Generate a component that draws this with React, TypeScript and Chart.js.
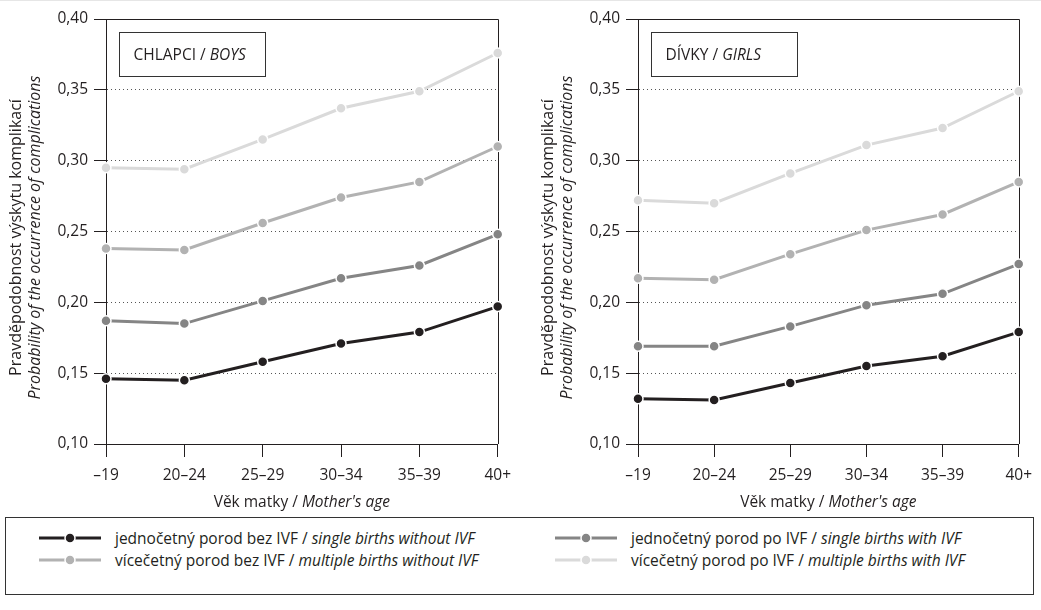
import React, { useEffect, useRef } from "react";
import { Chart, registerables } from "chart.js";

Chart.register(...registerables);

// ---------- data ----------
const ageGroups = ["–19", "20–24", "25–29", "30–34", "35–39", "40+"];

const boysSingleNoIVF = [0.146, 0.145, 0.158, 0.171, 0.179, 0.197];
const boysSingleIVF = [0.187, 0.185, 0.201, 0.217, 0.226, 0.248];
const boysMultiNoIVF = [0.238, 0.237, 0.256, 0.274, 0.285, 0.310];
const boysMultiIVF = [0.295, 0.294, 0.315, 0.337, 0.349, 0.376];

const girlsSingleNoIVF = [0.132, 0.131, 0.143, 0.155, 0.162, 0.179];
const girlsSingleIVF = [0.169, 0.169, 0.183, 0.198, 0.206, 0.227];
const girlsMultiNoIVF = [0.217, 0.216, 0.234, 0.251, 0.262, 0.285];
const girlsMultiIVF = [0.272, 0.270, 0.291, 0.311, 0.323, 0.349];

const yMin = 0.1;
const yMax = 0.4;
const yStep = 0.05;

const seriesNamesCz = [
  "jednočetný porod bez IVF",
  "jednočetný porod po IVF",
  "vícečetný porod bez IVF",
  "vícečetný porod po IVF",
];
const seriesNamesEn = [
  "single births without IVF",
  "single births with IVF",
  "multiple births without IVF",
  "multiple births with IVF",
];
const seriesColors = ["#231f20", "#858585", "#b2b2b2", "#dadada"];

const yTitleCz = "Pravděpodobnost výskytu komplikací";
const yTitleEn = "Probability of the occurrence of complications";
const xTitleCz = "Věk matky / ";
const xTitleEn = "Mother's age";

// ---------- helpers ----------
const FONT = "'Open Sans', sans-serif";
const FS = 15.5;
const TEXT = "#231f20";

type Part = [string, boolean];

function drawParts(
  ctx: CanvasRenderingContext2D,
  parts: Part[],
  x: number,
  y: number,
  center: boolean,
  size: number = FS
) {
  const widths = parts.map(([t, it]) => {
    ctx.font = `${it ? "italic " : ""}${size}px ${FONT}`;
    return ctx.measureText(t).width;
  });
  const total = widths.reduce((a, b) => a + b, 0);
  let cx = center ? x - total / 2 : x;
  ctx.textAlign = "left";
  ctx.textBaseline = "middle";
  parts.forEach(([t, it], i) => {
    ctx.font = `${it ? "italic " : ""}${size}px ${FONT}`;
    ctx.fillText(t, cx, y);
    cx += widths[i];
  });
}

function makeDecor(boxParts: Part[]) {
  return {
    id: "decor",
    beforeDatasetsDraw(chart: any) {
      const { ctx, chartArea } = chart;
      const { left, right, top, bottom } = chartArea;
      ctx.save();
      // top and right frame
      ctx.strokeStyle = TEXT;
      ctx.lineWidth = 1;
      ctx.setLineDash([]);
      ctx.beginPath();
      ctx.moveTo(left, Math.round(top) + 0.5);
      ctx.lineTo(Math.round(right) + 0.5, Math.round(top) + 0.5);
      ctx.lineTo(Math.round(right) + 0.5, bottom);
      ctx.stroke();
      // title box
      const bx = Math.round(left + 13) + 0.5;
      const by = Math.round(top + 13) + 0.5;
      ctx.fillStyle = "#fff";
      ctx.fillRect(bx, by, 146, 44);
      ctx.strokeStyle = "#333";
      ctx.strokeRect(bx, by, 146, 44);
      ctx.fillStyle = TEXT;
      drawParts(ctx, boxParts, bx + 14, by + 23, false);
      // x title
      drawParts(ctx, [[xTitleCz, false], [xTitleEn, true]], (left + right) / 2, 503, true);
      // y title
      const cy = (top + bottom) / 2 + 6;
      ctx.translate(left - 90, cy);
      ctx.rotate(-Math.PI / 2);
      drawParts(ctx, [[yTitleCz, false]], 0, 0, true, 16);
      ctx.restore();
      ctx.save();
      ctx.fillStyle = TEXT;
      ctx.translate(left - 71, cy);
      ctx.rotate(-Math.PI / 2);
      drawParts(ctx, [[yTitleEn, true]], 0, 0, true, 16);
      ctx.restore();
    },
  };
}

function buildConfig(series: number[][], yAxisWidth: number, padRight: number, boxParts: Part[]) {
  const order = [0, 1, 2, 3];
  return {
    type: "line",
    data: {
      labels: ageGroups,
      datasets: order.map((i) => ({
        label: seriesNamesCz[i],
        data: series[i],
        borderColor: seriesColors[i],
        backgroundColor: seriesColors[i],
        borderWidth: 3,
        pointRadius: 5,
        pointBorderColor: "#ffffff",
        pointBorderWidth: 1.5,
        pointBackgroundColor: seriesColors[i],
        tension: 0,
        clip: false,
      })),
    },
    options: {
      responsive: false,
      animation: false,
      layout: { padding: { top: 19, right: padRight, left: 0, bottom: 0 } },
      plugins: { legend: { display: false }, tooltip: { enabled: false } },
      scales: {
        x: {
          type: "category",
          offset: false,
          grid: {
            drawOnChartArea: false,
            drawTicks: true,
            tickLength: 13,
            tickColor: TEXT,
            color: TEXT,
          },
          border: { color: TEXT, width: 1 },
          ticks: {
            color: TEXT,
            font: { family: FONT, size: FS },
            padding: 9,
            maxRotation: 0,
            autoSkip: false,
          },
          afterFit(scale: any) {
            scale.height = 71;
          },
        },
        y: {
          min: yMin,
          max: yMax,
          grid: {
            color: "#555",
            lineWidth: 1,
            drawTicks: true,
            tickLength: 12,
            tickColor: TEXT,
            tickBorderDash: [],
          },
          border: { color: TEXT, width: 1, dash: [1, 3] },
          ticks: {
            stepSize: yStep,
            color: TEXT,
            font: { family: FONT, size: FS },
            padding: 6,
            callback: (v: any) => Number(v).toFixed(2).replace(".", ","),
          },
          afterFit(scale: any) {
            scale.width = yAxisWidth;
          },
        },
      },
    },
    plugins: [makeDecor(boxParts)],
  } as any;
}

function LineChart(props: {
  series: number[][];
  left: number;
  width: number;
  yAxisWidth: number;
  padRight: number;
  boxParts: Part[];
}) {
  const ref = useRef<HTMLCanvasElement | null>(null);
  useEffect(() => {
    if (!ref.current) return;
    const chart = new Chart(ref.current, buildConfig(props.series, props.yAxisWidth, props.padRight, props.boxParts));
    return () => chart.destroy();
  }, []);
  return (
    <canvas
      ref={ref}
      width={props.width}
      height={515}
      style={{ position: "absolute", left: props.left, top: 0, width: props.width, height: 515 }}
    />
  );
}

function LegendSample({ color }: { color: string }) {
  return (
    <svg width={62} height={12} style={{ display: "block" }}>
      <line x1={0} y1={6} x2={62} y2={6} stroke={color} strokeWidth={3} />
      <circle cx={31} cy={6} r={5} fill={color} stroke="#fff" strokeWidth={1.5} />
    </svg>
  );
}

function LegendItem({ idx, x, y }: { idx: number; x: number; y: number }) {
  return (
    <div
      style={{
        position: "absolute",
        left: x,
        top: y - 11,
        height: 22,
        display: "flex",
        alignItems: "center",
        whiteSpace: "nowrap",
        fontFamily: FONT,
        fontSize: FS,
        color: TEXT,
      }}
    >
      <LegendSample color={seriesColors[idx]} />
      <span style={{ marginLeft: 14 }}>
        {seriesNamesCz[idx]} / <i>{seriesNamesEn[idx]}</i>
      </span>
    </div>
  );
}

export default function App() {
  return (
    <div
      style={{
        position: "absolute",
        left: 0,
        top: 0,
        width: 1041,
        height: 610,
        background: "#fff",
        overflow: "hidden",
      }}
    >
      <div style={{ position: "absolute", left: 0, top: 0, width: 1041, height: 1, background: "#e6e6e6" }} />
      <LineChart
        series={[boysSingleNoIVF, boysSingleIVF, boysMultiNoIVF, boysMultiIVF]}
        left={0}
        width={520}
        yAxisWidth={106}
        padRight={22}
        boxParts={[["CHLAPCI / ", false], ["BOYS", true]]}
      />
      <LineChart
        series={[girlsSingleNoIVF, girlsSingleIVF, girlsMultiNoIVF, girlsMultiIVF]}
        left={520}
        width={521}
        yAxisWidth={118}
        padRight={14}
        boxParts={[["DÍVKY / ", false], ["GIRLS", true]]}
      />
      <div
        style={{
          position: "absolute",
          left: 5,
          top: 517,
          width: 1029,
          height: 78,
          border: "1px solid #333",
          boxSizing: "border-box",
        }}
      />
      <LegendItem idx={0} x={39} y={538} />
      <LegendItem idx={2} x={39} y={560} />
      <LegendItem idx={1} x={555} y={538} />
      <LegendItem idx={3} x={555} y={560} />
    </div>
  );
}
